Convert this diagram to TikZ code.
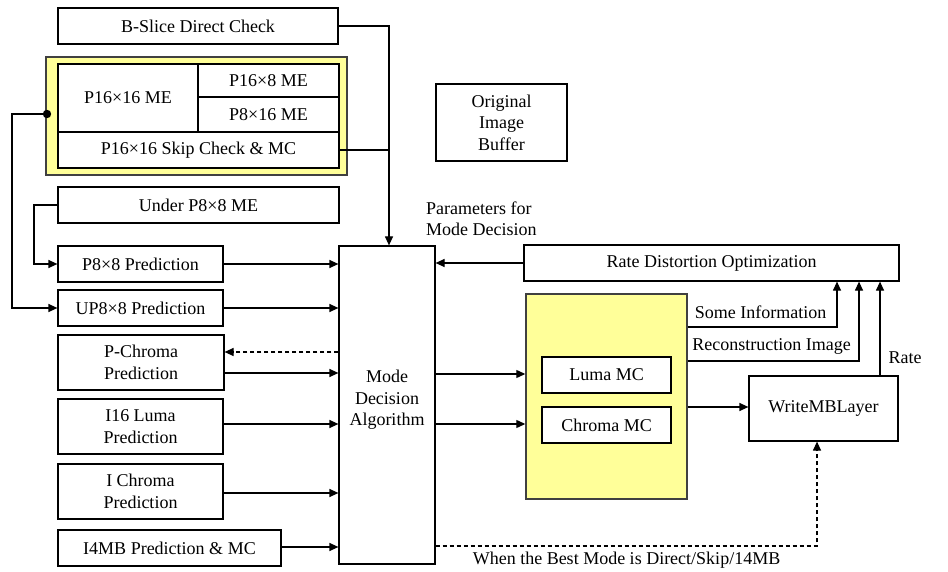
\documentclass[tikz,border=0pt]{standalone}
\usepackage{fontspec}
\setmainfont{Liberation Serif}
\usetikzlibrary{arrows.meta}
\definecolor{ylw}{HTML}{FFFF99}
\begin{document}
\begin{tikzpicture}[x=1pt,y=-1pt,
  font=\fontsize{18}{21.5}\selectfont,
  box/.style={draw=black,line width=1.2pt,rectangle,inner sep=0pt,align=center,fill=white},
  ybox/.style={draw=black!75,line width=1.4pt,rectangle,fill=ylw,inner sep=0pt},
  ln/.style={line width=1.2pt},
  arr/.style={line width=1.2pt,-{Triangle[length=9pt,width=8pt]}},
  darr/.style={line width=1.2pt,dashed,dash pattern=on 4pt off 3pt,-{Triangle[length=9pt,width=8pt]}},
  lbl/.style={inner sep=0pt,align=left}]
\useasboundingbox (0,0) rectangle (948,572);
% left column
\node[box,minimum width=280,minimum height=36] (bs) at (198,26) {B-Slice Direct Check};
\node[ybox,minimum width=301,minimum height=118] (yl) at (196.5,116) {};
\node[box,minimum width=140,minimum height=68] (p1616) at (128,98) {P16×16 ME};
\node[box,minimum width=141,minimum height=33] (p168) at (268.5,80.5) {P16×8 ME};
\node[box,minimum width=141,minimum height=35] (p816) at (268.5,114.5) {P8×16 ME};
\node[box,minimum width=281,minimum height=36] (skip) at (198.5,150) {P16×16 Skip Check \& MC};
\node[box,minimum width=281,minimum height=36] (under) at (198.5,205) {Under P8×8 ME};
\node[box,minimum width=165,minimum height=36] (p88) at (140.5,264) {P8×8 Prediction};
\node[box,minimum width=165,minimum height=36] (up88) at (140.5,308) {UP8×8 Prediction};
\node[box,minimum width=166,minimum height=55] (pch) at (141,362.5) {P-Chroma\\Prediction};
\node[box,minimum width=165,minimum height=55] (i16) at (140.5,426.5) {I16 Luma\\Prediction};
\node[box,minimum width=165,minimum height=55] (ich) at (140.5,491.5) {I Chroma\\Prediction};
\node[box,minimum width=223,minimum height=36] (i4) at (169.5,548) {I4MB Prediction \& MC};
% mode decision
\node[box,minimum width=96,minimum height=318] (mode) at (387,405) {};
\node[lbl,align=center] (modet) at (387,400) {Mode\\Decision\\Algorithm};
% right side
\node[box,minimum width=131,minimum height=77] (orig) at (501.5,122.5) {Original\\Image\\Buffer};
\node[lbl,anchor=west] (par) at (426,219) {Parameters for\\Mode Decision};
\node[box,minimum width=375,minimum height=36] (rdo) at (711.5,263) {Rate Distortion Optimization};
\node[ybox,minimum width=161,minimum height=205] (mc) at (606.5,396.5) {};
\node[box,minimum width=129,minimum height=36] (luma) at (606.5,375) {Luma MC};
\node[box,minimum width=129,minimum height=36] (chroma) at (606.5,425) {Chroma MC};
\node[box,minimum width=149,minimum height=65] (wmb) at (823.5,408.5) {WriteMBLayer};
% coordinates
\coordinate (bsx) at (389,26);
\coordinate (dot) at (47,114);
\coordinate (c1) at (837,327);
\coordinate (c2) at (859,361);
\coordinate (c3) at (880,376);
\coordinate (c4) at (817,546);
% connectors
\draw[arr] (bs.east) -| (bsx |- mode.north);
\draw[ln] (skip.east) -- (skip.east -| bsx);
\draw[arr] (under.west) -- (34,205) |- (p88.west);
\fill (dot) circle (4.2pt);
\draw[arr] (dot) -- (12,114) |- (up88.west);
\draw[arr] (p88.east) -- (p88.east -| mode.west);
\draw[arr] (up88.east) -- (up88.east -| mode.west);
\draw[darr] (mode.west |- 0,352) -- (pch.east |- 0,352);
\draw[arr] (pch.east |- 0,373) -- (mode.west |- 0,373);
\draw[arr] (i16.east |- 0,424) -- (mode.west |- 0,424);
\draw[arr] (ich.east |- 0,493) -- (mode.west |- 0,493);
\draw[arr] (i4.east |- 0,547) -- (mode.west |- 0,547);
\draw[arr] (rdo.west) -- (rdo.west -| mode.east);
\draw[arr] (mode.east |- 0,374) -- (mc.west |- 0,374);
\draw[arr] (mode.east |- 0,424) -- (mc.west |- 0,424);
\draw[arr] (mc.east |- c1) -- (c1) -- (c1 |- rdo.south);
\draw[arr] (mc.east |- c2) -- (c2) -- (c2 |- rdo.south);
\draw[arr] (c3 |- wmb.north) -- (c3 |- rdo.south);
\draw[arr] (mc.east |- 0,407) -- (wmb.west |- 0,407);
\draw[darr] (mode.east |- c4) -- (c4) -- (c4 |- wmb.south);
% labels
\node[lbl] (l1) at (760.5,312) {Some Information};
\node[lbl] (l2) at (771.5,346) {Reconstruction Image};
\node[lbl] (l3) at (905,358) {Rate};
\node[lbl] (l4) at (626.5,560) {When the Best Mode is Direct/Skip/14MB};
\end{tikzpicture}
\end{document}
